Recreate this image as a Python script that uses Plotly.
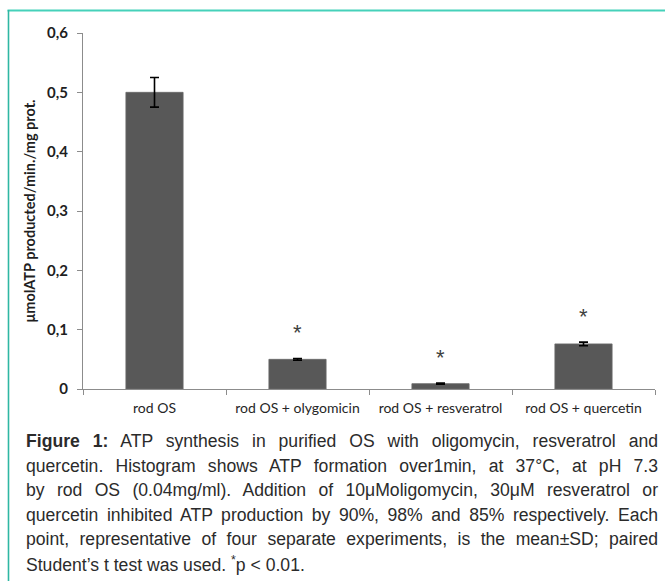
import plotly.graph_objects as go

# ---------------- data ----------------
categories = ["rod OS", "rod OS + olygomicin", "rod OS + resveratrol", "rod OS + quercetin"]
atp_values = [0.50, 0.050, 0.009, 0.076]
atp_sd = [0.025, 0.0015, 0.001, 0.003]
significant = [False, True, True, True]
y_title = "μmolATP producted/min./mg prot."
caption_lines = [
    "<b>Figure 1:</b> ATP synthesis in purified OS with oligomycin, resveratrol and",
    "quercetin. Histogram shows ATP formation over1min, at 37°C, at pH 7.3",
    "by rod OS (0.04mg/ml). Addition of 10μMoligomycin, 30μM resveratrol or",
    "quercetin inhibited ATP production by 90%, 98% and 85% respectively. Each",
    "point, representative of four separate experiments, is the mean±SD; paired",
    "Student’s t test was used. <sup>*</sup>p &lt; 0.01.",
]

# ---------------- layout geometry (pixels) ----------------
W, H = 665, 581
ML, MR, MT, MB = 83, 10, 33, 192
PW, PH = W - ML - MR, H - MT - MB


def px_x(px):
    return (px - ML) / PW


def px_y(py):
    return (H - MB - py) / PH


fig = go.Figure()
fig.add_trace(go.Bar(
    x=categories, y=atp_values,
    width=0.4,
    marker=dict(color="#585858", line=dict(color="#6a6a6a", width=0.8)),
    error_y=dict(type="data", array=atp_sd, visible=True,
                 color="#000000", thickness=1.6, width=4.5),
    hoverinfo="skip",
))

annotations = []
# significance asterisks
for cat, v, sd, sig in zip(categories, atp_values, atp_sd, significant):
    if sig:
        annotations.append(dict(
            x=cat, y=v + sd, xref="x", yref="y", text="*",
            showarrow=False, yanchor="bottom", yshift=11,
            font=dict(family="Liberation Sans, Arial", size=22, color="#404040"),
        ))

# caption lines (justified by post script)
line_centres = [441, 465.5, 490, 514.5, 539, 563.5]
for i, (txt, yc) in enumerate(zip(caption_lines, line_centres)):
    annotations.append(dict(
        x=px_x(24), y=px_y(yc), xref="paper", yref="paper",
        text=txt, showarrow=False, xanchor="left", yanchor="middle", align="left",
        font=dict(family="Liberation Sans, Arial", size=17.6, color="#2b2b2b"),
        name="justify" if i < len(caption_lines) - 1 else "plain",
    ))

shapes = [
    # teal frame: top and left edges
    dict(type="line", xref="paper", yref="paper",
         x0=px_x(7.5), x1=px_x(W + 2), y0=px_y(10.5), y1=px_y(10.5),
         line=dict(color="#45d1ba", width=2.2), layer="above"),
    dict(type="line", xref="paper", yref="paper",
         x0=px_x(8.5), x1=px_x(8.5), y0=px_y(10), y1=px_y(H + 2),
         line=dict(color="#2fb7a3", width=1.6), layer="above"),
]

fig.update_layout(
    width=W, height=H,
    margin=dict(l=ML, r=MR, t=MT, b=MB, pad=0),
    paper_bgcolor="white", plot_bgcolor="white",
    separators=",.",
    showlegend=False,
    bargap=0.6,
    annotations=annotations,
    shapes=shapes,
    font=dict(family="Lato, Liberation Sans, Arial", color="#1f1f1f"),
    xaxis=dict(
        type="category", range=[-0.5, 3.5],
        showline=True, linecolor="#8c8c8c", linewidth=1.2,
        ticks="outside", tickson="boundaries", ticklen=5, tickcolor="#8c8c8c", tickwidth=1.2,
        tickfont=dict(family="Lato", size=14, color="#262626"),
        ticklabelstandoff=6,
        showgrid=False, zeroline=False, fixedrange=True,
    ),
    yaxis=dict(
        range=[0, 0.6], dtick=0.1, tick0=0,
        showline=True, linecolor="#8c8c8c", linewidth=1.2,
        ticks="outside", ticklen=5, tickcolor="#8c8c8c", tickwidth=1.2,
        tickfont=dict(family="Lato", size=15, color="#1f1f1f", weight="bold"),
        ticklabelstandoff=6,
        showgrid=False, zeroline=False, fixedrange=True,
        title=dict(text=y_title, standoff=7,
                   font=dict(family="Lato", size=14.5, color="#1f1f1f", weight="bold")),
    ),
)

post_script = r"""
(function(){
  document.documentElement.style.margin = '0';
  document.body.style.margin = '0';
  document.body.style.padding = '0';
  document.body.style.overflow = 'hidden';
  var gd = document.getElementById('{plot_id}');
  var TARGET = 632;
  function justify(){
    if(!gd || !gd.layout || !gd.layout.annotations) return;
    var groups = gd.querySelectorAll('g.annotation');
    groups.forEach(function(g){
      var idx = +g.getAttribute('data-index');
      var ann = gd.layout.annotations[idx];
      if(!ann || ann.name !== 'justify') return;
      var t = g.querySelector('text.annotation-text');
      if(!t) return;
      t.style.wordSpacing = '0px';
      var len = t.getComputedTextLength();
      var nsp = (t.textContent.match(/ /g) || []).length;
      if(nsp > 0 && len < TARGET){
        t.style.wordSpacing = ((TARGET - len) / nsp) + 'px';
      }
    });
  }
  justify();
  setTimeout(justify, 30);
  setTimeout(justify, 300);
  if(gd && gd.on){ gd.on('plotly_afterplot', justify); }
})();
"""

fig.write_html("out.html", post_script=post_script, config={"displayModeBar": False})
